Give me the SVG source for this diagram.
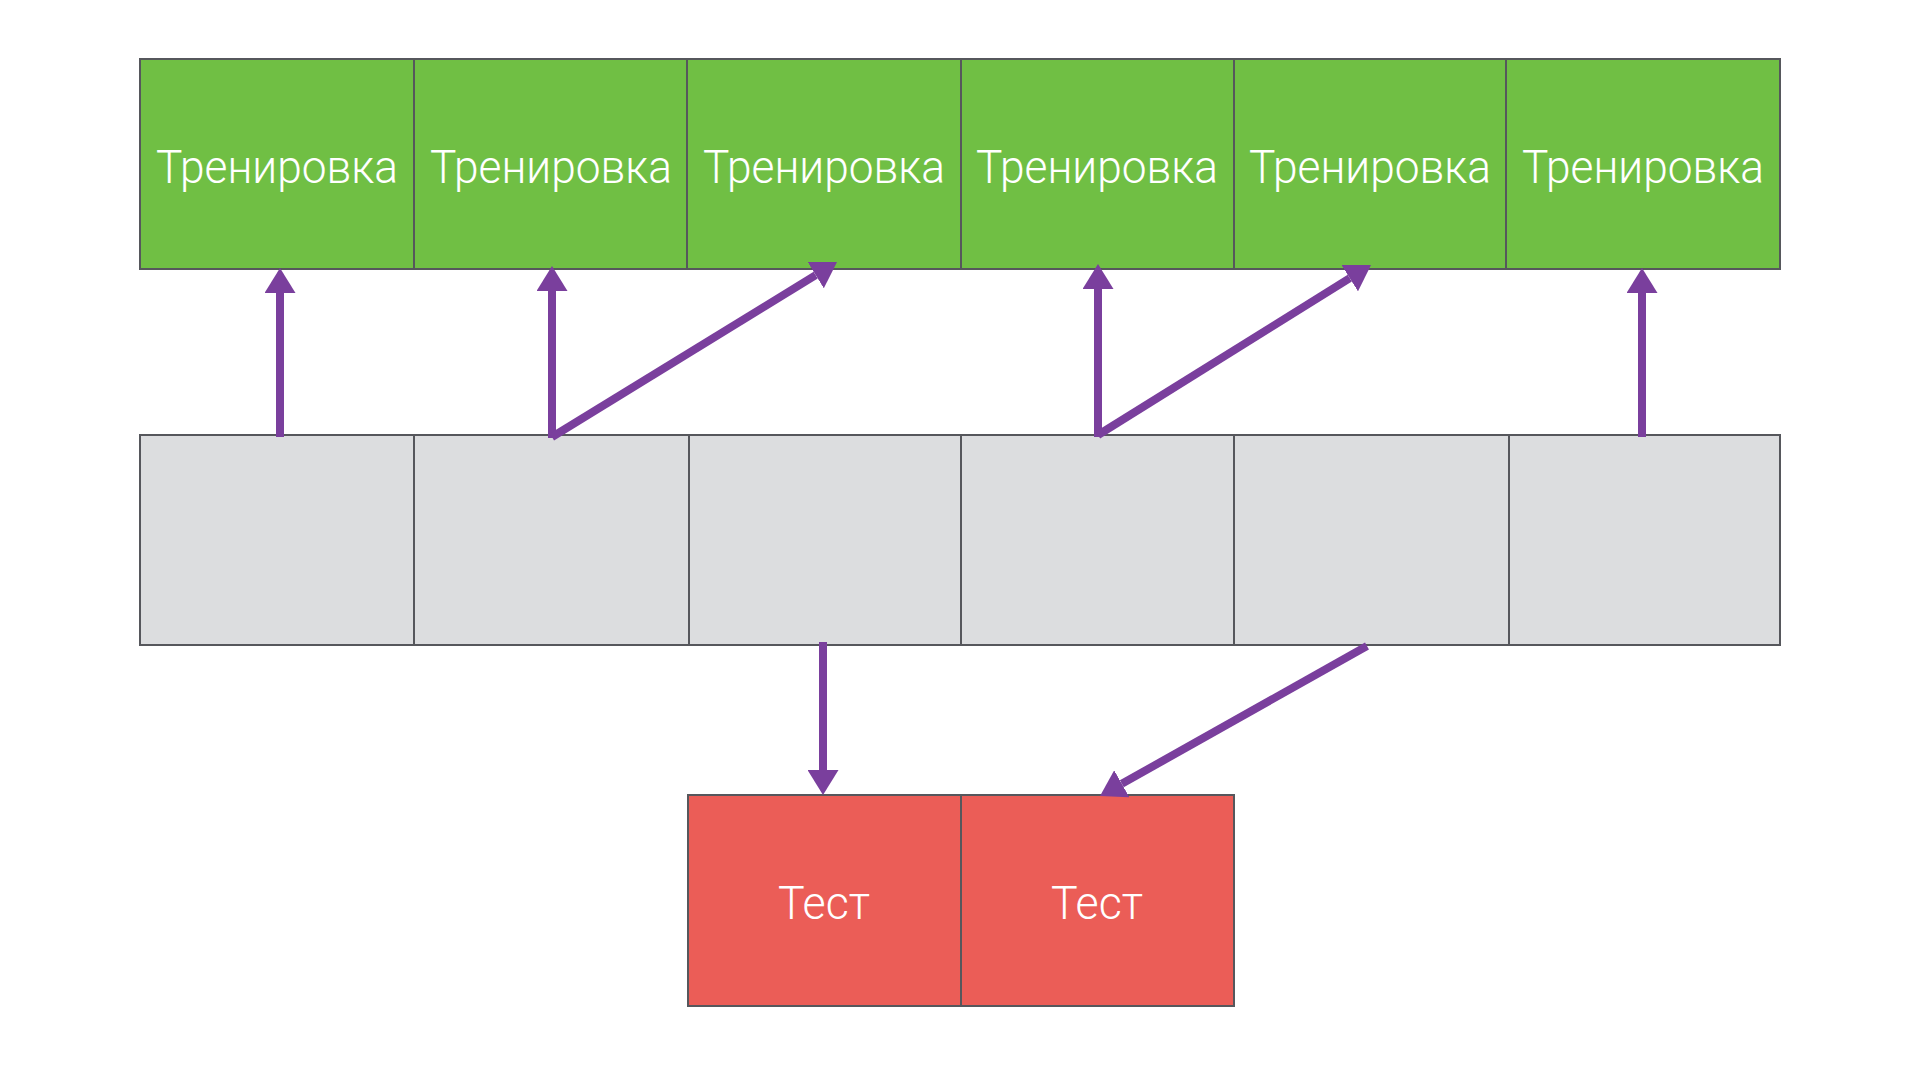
<svg xmlns="http://www.w3.org/2000/svg" width="1920" height="1080" viewBox="0 0 1920 1080">
<style>
.cell{stroke:#56575C;stroke-width:2}
.train{fill:#70BF44}
.mid{fill:#DCDDDF}
.test{fill:#EB5D57}
.lbl{font-family:Roboto,"Liberation Sans",sans-serif;font-weight:300;font-size:47px;fill:#FFFFFF;text-anchor:middle}
.arr{stroke:#7A3F9D;stroke-width:8;fill:none;marker-end:url(#ah)}
</style>
<defs>
<marker id="ah" viewBox="0 0 25 31" markerWidth="25" markerHeight="31" refX="0" refY="15.5" orient="auto" markerUnits="userSpaceOnUse">
<path d="M0,0 L25,15.5 L0,31 Z" fill="#7A3F9D"/>
</marker>
</defs>
<rect width="1920" height="1080" fill="#FFFFFF"/>
<g id="train1"><rect class="cell train" x="140" y="59" width="274" height="210"/><text class="lbl" x="277" y="183" textLength="242" lengthAdjust="spacingAndGlyphs">Тренировка</text></g>
<g id="train2"><rect class="cell train" x="414" y="59" width="273" height="210"/><text class="lbl" x="551" y="183" textLength="242" lengthAdjust="spacingAndGlyphs">Тренировка</text></g>
<g id="train3"><rect class="cell train" x="687" y="59" width="274" height="210"/><text class="lbl" x="824" y="183" textLength="242" lengthAdjust="spacingAndGlyphs">Тренировка</text></g>
<g id="train4"><rect class="cell train" x="961" y="59" width="273" height="210"/><text class="lbl" x="1097" y="183" textLength="242" lengthAdjust="spacingAndGlyphs">Тренировка</text></g>
<g id="train5"><rect class="cell train" x="1234" y="59" width="272" height="210"/><text class="lbl" x="1370" y="183" textLength="242" lengthAdjust="spacingAndGlyphs">Тренировка</text></g>
<g id="train6"><rect class="cell train" x="1506" y="59" width="274" height="210"/><text class="lbl" x="1643" y="183" textLength="242" lengthAdjust="spacingAndGlyphs">Тренировка</text></g>
<g id="mid1"><rect class="cell mid" x="140" y="435" width="274" height="210"/></g>
<g id="mid2"><rect class="cell mid" x="414" y="435" width="275" height="210"/></g>
<g id="mid3"><rect class="cell mid" x="689" y="435" width="272" height="210"/></g>
<g id="mid4"><rect class="cell mid" x="961" y="435" width="273" height="210"/></g>
<g id="mid5"><rect class="cell mid" x="1234" y="435" width="275" height="210"/></g>
<g id="mid6"><rect class="cell mid" x="1509" y="435" width="271" height="210"/></g>
<g id="test1"><rect class="cell test" x="688" y="795" width="273" height="211"/><text class="lbl" x="824" y="919" textLength="92" lengthAdjust="spacingAndGlyphs">Тест</text></g>
<g id="test2"><rect class="cell test" x="961" y="795" width="273" height="211"/><text class="lbl" x="1097" y="919" textLength="92" lengthAdjust="spacingAndGlyphs">Тест</text></g>
<g id="connectors">
<line class="arr" x1="280" y1="437" x2="280" y2="293"/>
<line class="arr" x1="552" y1="438" x2="552" y2="291"/>
<line class="arr" x1="552" y1="437" x2="815.7" y2="275.1"/>
<line class="arr" x1="1098" y1="437" x2="1098" y2="289"/>
<line class="arr" x1="1098" y1="435" x2="1349.8" y2="278.2"/>
<line class="arr" x1="1642" y1="437" x2="1642" y2="293"/>
<line class="arr" x1="823" y1="642" x2="823" y2="770"/>
<line class="arr" x1="1367" y1="646" x2="1121.8" y2="783.8"/>
</g>
</svg>
